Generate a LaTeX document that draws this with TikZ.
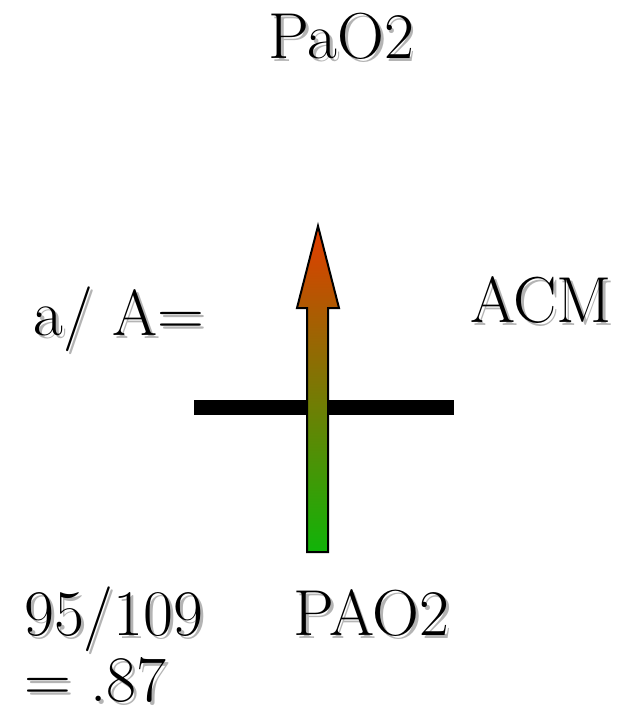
\documentclass[tikz,border=0pt]{standalone}
\usepackage{fontspec}
\usepackage{tikz}
\usetikzlibrary{positioning}
\definecolor{shade}{HTML}{B4B4B4}
\definecolor{flowtop}{HTML}{E43C00}
\definecolor{flowmid}{HTML}{A48C00}
\definecolor{flowbot}{HTML}{10B408}
\newcommand{\shadowed}[1]{\makebox[0pt][l]{\kern3pt\raisebox{-3pt}{\textcolor{shade}{#1}}}#1}

\begin{document}
\begin{tikzpicture}[x=1pt, y=-1pt, label/.style={inner sep=0pt, anchor=base west, font=\fontsize{65}{70}\selectfont}]
\useasboundingbox (0,0) rectangle (637,713);
\node[label] (pao2top) at (268,58) {\shadowed{PaO2}};
\node[label] (ratio) at (33,335) {\shadowed{a/ A=}};
\node[label] (acm) at (470,322) {\shadowed{ACM}};
\node[label] (frac) at (24,635) {\shadowed{95/109}};
\node[label] (result) at (24,701) {\shadowed{= .87}};
\node[label] (pao2bot) at (293,635) {\shadowed{PAO2}};
% membrane bar, behind the arrow
\coordinate (barL) at (194,407.5);
\coordinate (barR) at (454,407.5);
\draw[line width=15pt] (barL) -- (barR);
% gradient arrow
\shade[top color=flowtop, middle color=flowmid, bottom color=flowbot, draw=black, line width=2pt, line join=miter]
  (307,552) -- (307,308) -- (297,308) -- (318,226) -- (339,308) -- (328,308) -- (328,552) -- cycle;
\end{tikzpicture}
\end{document}
